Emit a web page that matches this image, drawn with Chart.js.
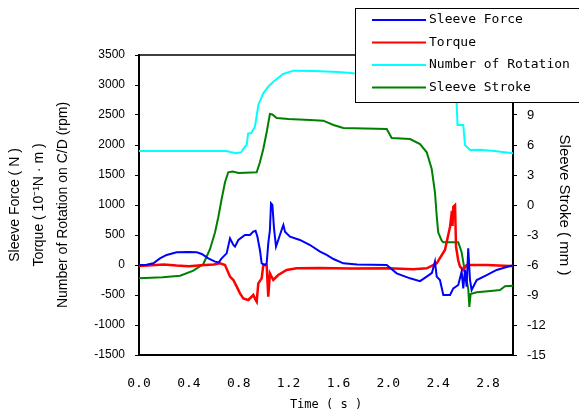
<!DOCTYPE html>
<html>
<head>
<meta charset="utf-8">
<script src="https://cdn.jsdelivr.net/npm/chart.js@4.4.1/dist/chart.umd.min.js"></script>
<style>
html,body{margin:0;padding:0;background:#fff;}
canvas{display:block;}
</style>
</head>
<body>
<canvas id="c" width="579" height="418"></canvas>
<script>
// ---- data ----
const seriesNames = ['Sleeve Force', 'Torque', 'Number of Rotation', 'Sleeve Stroke'];

const forceT = [0,0.06,0.115,0.168,0.222,0.302,0.40,0.463,0.503,0.556,0.61,0.64,0.663,0.703,0.73,0.757,0.77,0.797,0.85,0.89,0.917,0.935,0.95,0.957,0.97,0.984,1.01,1.024,1.037,1.05,1.059,1.07,1.083,1.099,1.117,1.144,1.158,1.171,1.211,1.291,1.372,1.452,1.505,1.56,1.639,1.75,1.987,2.067,2.174,2.254,2.308,2.35,2.374,2.388,2.414,2.441,2.495,2.521,2.561,2.588,2.601,2.615,2.628,2.641,2.655,2.668,2.709,2.789,2.869,2.976,3.0];
const forceV = [0,5,30,111,167,211,215,211,183,111,56,44,111,194,444,333,306,417,500,500,556,570,470,389,250,28,0,28,361,583,1028,1000,611,306,417,583,667,556,472,417,333,222,167,100,28,10,0,-139,-222,-270,-194,-130,56,-194,-250,-500,-500,-389,-333,-111,-389,-83,-361,278,-250,-417,-250,-167,-83,-17,-10];

const torqueT = [0,0.1,0.2,0.3,0.4,0.5,0.6,0.65,0.69,0.73,0.757,0.784,0.81,0.837,0.877,0.917,0.93,0.944,0.957,0.984,0.997,1.024,1.037,1.05,1.077,1.117,1.184,1.264,1.45,1.7,2.0,2.2,2.308,2.388,2.454,2.495,2.51,2.515,2.521,2.535,2.543,2.56,2.575,2.60,2.628,2.79,2.976,3.0];
const torqueV = [-17,-5,10,-10,-20,-5,10,28,0,-194,-250,-361,-472,-556,-583,-500,-560,-611,-306,-222,0,0,-528,-139,-250,-167,-83,-56,-50,-60,-56,-70,-56,28,250,639,900,650,972,1000,306,83,-28,-83,0,0,-17,-17];

const rotT = [0,0.70,0.74,0.784,0.82,0.845,0.864,0.875,0.90,0.93,0.945,0.957,0.997,1.037,1.077,1.157,1.238,1.40,1.60,1.72,2.0,2.3,2.45,2.52,2.548,2.555,2.601,2.615,2.655,2.735,2.85,3.0];
const rotV = [1900,1900,1880,1861,1880,1960,2000,2190,2200,2305,2500,2667,2861,2972,3055,3183,3239,3235,3215,3195,3190,3180,3150,2950,2694,2333,2333,2000,1917,1922,1900,1861];

const strokeT = [0,0.19,0.33,0.436,0.516,0.57,0.61,0.636,0.663,0.69,0.716,0.75,0.80,0.944,0.97,0.997,1.024,1.05,1.07,1.104,1.2,1.372,1.478,1.56,1.639,1.987,2.027,2.174,2.254,2.308,2.348,2.374,2.388,2.40,2.428,2.441,2.561,2.588,2.615,2.641,2.65,2.66,2.709,2.842,2.896,2.936,3.0];
const strokeV = [-7.33,-7.23,-7.07,-6.57,-5.9,-4.4,-2.73,-1.23,0.6,2.27,3.27,3.35,3.2,3.27,4.27,5.6,7.27,9.1,9.05,8.7,8.6,8.5,8.43,8.0,7.7,7.6,6.7,6.6,6.1,5.27,3.6,1.27,-1.07,-2.73,-3.57,-3.73,-3.73,-4.73,-6.73,-8.4,-10.2,-8.9,-8.73,-8.57,-8.5,-8.13,-8.07];

const xTicks = [0.0,0.4,0.8,1.2,1.6,2.0,2.4,2.8];
const xTickLabels = ['0.0','0.4','0.8','1.2','1.6','2.0','2.4','2.8'];
const leftTicks = [-1500,-1000,-500,0,500,1000,1500,2000,2500,3000,3500];
const rightTicks = [-15,-12,-9,-6,-3,0,3,6,9,12,15];

const leftTitle = ['Sleeve Force ( N )', 'Torque ( 10\u207B\u00B9N \u00B7 m )', 'Number of Rotation on C/D (rpm)'];
const rightTitle = 'Sleeve Stroke ( mm )';
const xTitle = 'Time ( s )';

// ---- helpers ----
const pts = (T, V) => T.map((t, i) => ({x: t, y: V[i]}));
const SANS = "'Liberation Sans', Arial, sans-serif";
const MONO = "'DejaVu Sans Mono', monospace";

const framePlugin = {
  id: 'frame',
  beforeDatasetsDraw(chart) {
    const {ctx, chartArea: a} = chart;
    ctx.save();
    ctx.strokeStyle = '#000';
    ctx.lineWidth = 1.5;
    ctx.beginPath();
    ctx.moveTo(a.left, a.top);
    ctx.lineTo(a.right, a.top);
    ctx.stroke();
    ctx.restore();
  }
};

const boxLegend = {
  id: 'boxLegend',
  afterDraw(chart) {
    const ctx = chart.ctx;
    ctx.save();
    ctx.fillStyle = '#fff';
    ctx.fillRect(355, 8, 240, 94);
    ctx.strokeStyle = '#000';
    ctx.lineWidth = 1;
    ctx.strokeRect(355.5, 8.5, 240, 94);
    chart.data.datasets.forEach((ds, i) => {
      const y = 20 + i * 22.5;
      ctx.strokeStyle = ds.borderColor;
      ctx.lineWidth = 2;
      ctx.beginPath();
      ctx.moveTo(372, y);
      ctx.lineTo(426, y);
      ctx.stroke();
      ctx.fillStyle = '#000';
      ctx.font = "13px " + MONO;
      ctx.textAlign = 'left';
      ctx.textBaseline = 'middle';
      ctx.fillText(ds.label, 429, y);
    });
    ctx.restore();
  }
};

const mk = (label, T, V, color, axis, w) => ({
  label, data: pts(T, V), borderColor: color, backgroundColor: color,
  borderWidth: w, pointRadius: 0, tension: 0, fill: false, yAxisID: axis
});

new Chart(document.getElementById('c'), {
  type: 'line',
  data: {
    datasets: [
      mk(seriesNames[0], forceT, forceV, '#0000FF', 'y', 2),
      mk(seriesNames[1], torqueT, torqueV, '#FF0000', 'y', 2.5),
      mk(seriesNames[2], rotT, rotV, '#00FFFF', 'y', 2),
      mk(seriesNames[3], strokeT, strokeV, '#008000', 'y2', 2)
    ]
  },
  options: {
    responsive: false,
    devicePixelRatio: 1,
    animation: false,
    events: [],
    layout: {padding: {top: 55, left: 0, right: 0, bottom: 0}},
    plugins: {legend: {display: false}, tooltip: {enabled: false}},
    scales: {
      x: {
        type: 'linear', position: 'bottom', min: 0, max: 3.0,
        afterFit: s => { s.height = 63; },
        afterBuildTicks: s => { s.ticks = xTicks.map(v => ({value: v})); },
        grid: {display: false, drawTicks: false},
        border: {display: true, color: '#000', width: 2},
        ticks: {
          padding: 21, color: '#000', maxRotation: 0, autoSkip: false,
          font: {family: MONO, size: 13},
          callback: (v, i) => xTickLabels[i]
        },
        title: {display: true, text: xTitle, color: '#000',
          font: {family: MONO, size: 12}, padding: {top: 0, bottom: 6}}
      },
      y: {
        type: 'linear', position: 'left', min: -1500, max: 3500,
        afterFit: s => { s.width = 139; },
        afterBuildTicks: s => { s.ticks = leftTicks.map(v => ({value: v})); },
        grid: {drawOnChartArea: false, drawTicks: true, tickLength: 4, color: '#000', lineWidth: 1},
        border: {display: true, color: '#000', width: 2},
        ticks: {padding: 10, color: '#000', autoSkip: false,
          font: {family: SANS, size: 12},
          callback: v => String(v)},
        title: {display: true, text: leftTitle, color: '#000',
          font: {family: SANS, size: 14, lineHeight: '24px'}, padding: {top: 3, bottom: 0}}
      },
      y2: {
        type: 'linear', position: 'right', min: -15, max: 15,
        afterFit: s => { s.width = 66; },
        afterBuildTicks: s => { s.ticks = rightTicks.map(v => ({value: v})); },
        grid: {drawOnChartArea: false, drawTicks: true, tickLength: 4, color: '#000', lineWidth: 1},
        border: {display: true, color: '#000', width: 2},
        ticks: {padding: 10, color: '#000', autoSkip: false,
          font: {family: SANS, size: 13},
          callback: v => String(v)},
        title: {display: true, text: rightTitle, color: '#000',
          font: {family: SANS, size: 15}, padding: {top: 6, bottom: 0}}
      }
    }
  },
  plugins: [framePlugin, boxLegend]
});
</script>
</body>
</html>
